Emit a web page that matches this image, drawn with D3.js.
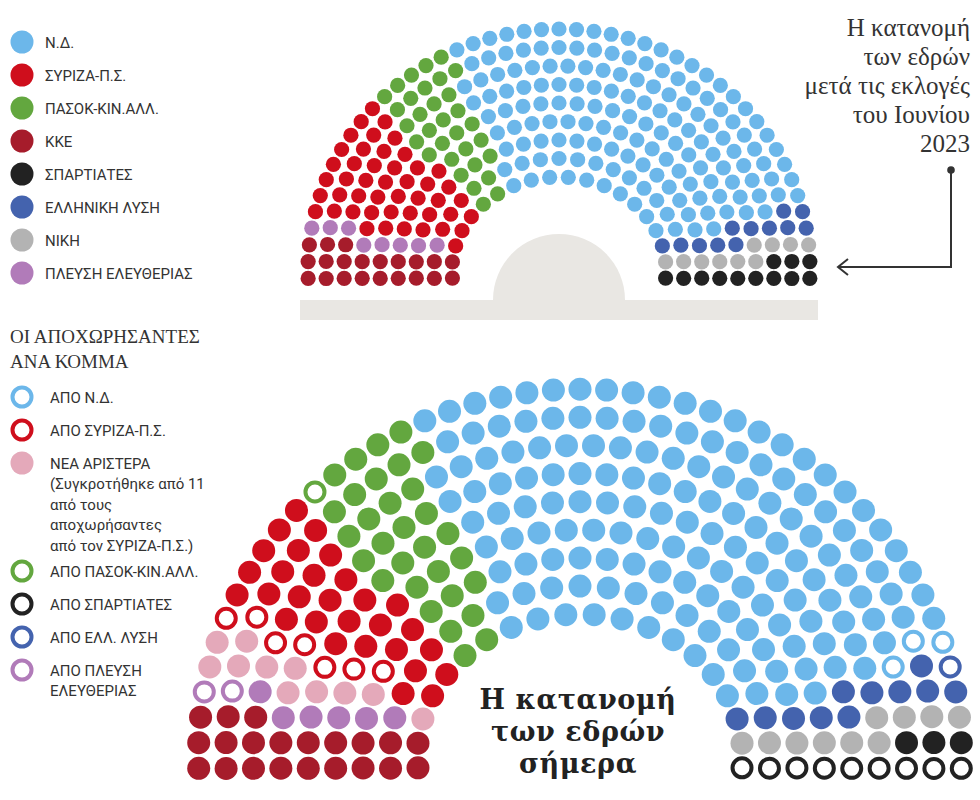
<!DOCTYPE html>
<html lang="el">
<head>
<meta charset="utf-8">
<title>Η κατανομή των εδρών</title>
<style>
  body { margin: 0; background: #fff; }
  svg { display: block; }
  .lbl { font-family: Roboto, "Noto Sans", sans-serif; font-size: 15px; fill: #333; }
  .serif { font-family: "Liberation Serif", "DejaVu Serif", serif; fill: #333; }
  .big { font-family: "DejaVu Serif", serif; font-weight: bold; font-size: 27px; letter-spacing: 0.6px; fill: #222; }
</style>
</head>
<body>
<div id="chart"></div>
<script src="https://cdnjs.cloudflare.com/ajax/libs/d3/7.8.5/d3.min.js"></script>
<script>
// parties and colours
var parties = ["Ν.Δ.", "ΣΥΡΙΖΑ-Π.Σ.", "ΠΑΣΟΚ-ΚΙΝ.ΑΛΛ.", "ΚΚΕ", "ΣΠΑΡΤΙΑΤΕΣ", "ΕΛΛΗΝΙΚΗ ΛΥΣΗ", "ΝΙΚΗ", "ΠΛΕΥΣΗ ΕΛΕΥΘΕΡΙΑΣ", "ΝΕΑ ΑΡΙΣΤΕΡΑ"];
var partyColors = ["#6cb7ea", "#cf0e1c", "#63a73f", "#a61c2b", "#222222", "#4463ae", "#b3b3b3", "#b17bb9", "#e4a9ba"];

// seats after the June 2023 election, left to right
var juneOrder = ["ΚΚΕ", "ΠΛΕΥΣΗ ΕΛΕΥΘΕΡΙΑΣ", "ΣΥΡΙΖΑ-Π.Σ.", "ΠΑΣΟΚ-ΚΙΝ.ΑΛΛ.", "Ν.Δ.", "ΕΛΛΗΝΙΚΗ ΛΥΣΗ", "ΝΙΚΗ", "ΣΠΑΡΤΙΑΤΕΣ"];
var juneSeats = [21, 8, 47, 32, 158, 12, 10, 12];

// seats today: each group sits inside the block of its June party
var todayBlock = ["ΚΚΕ", "ΠΛΕΥΣΗ ΕΛΕΥΘΕΡΙΑΣ", "ΠΛΕΥΣΗ ΕΛΕΥΘΕΡΙΑΣ", "ΣΥΡΙΖΑ-Π.Σ.", "ΣΥΡΙΖΑ-Π.Σ.", "ΣΥΡΙΖΑ-Π.Σ.",
                  "ΠΑΣΟΚ-ΚΙΝ.ΑΛΛ.", "ΠΑΣΟΚ-ΚΙΝ.ΑΛΛ.", "Ν.Δ.", "Ν.Δ.", "ΕΛΛΗΝΙΚΗ ΛΥΣΗ", "ΕΛΛΗΝΙΚΗ ΛΥΣΗ",
                  "ΝΙΚΗ", "ΣΠΑΡΤΙΑΤΕΣ", "ΣΠΑΡΤΙΑΤΕΣ"];
var todayParty = ["ΚΚΕ", "ΠΛΕΥΣΗ ΕΛΕΥΘΕΡΙΑΣ", "ΠΛΕΥΣΗ ΕΛΕΥΘΕΡΙΑΣ", "ΝΕΑ ΑΡΙΣΤΕΡΑ", "ΣΥΡΙΖΑ-Π.Σ.", "ΣΥΡΙΖΑ-Π.Σ.",
                  "ΠΑΣΟΚ-ΚΙΝ.ΑΛΛ.", "ΠΑΣΟΚ-ΚΙΝ.ΑΛΛ.", "Ν.Δ.", "Ν.Δ.", "ΕΛΛΗΝΙΚΗ ΛΥΣΗ", "ΕΛΛΗΝΙΚΗ ΛΥΣΗ",
                  "ΝΙΚΗ", "ΣΠΑΡΤΙΑΤΕΣ", "ΣΠΑΡΤΙΑΤΕΣ"];
var todaySeats = [21, 2, 6, 11, 7, 29, 1, 31, 3, 155, 1, 11, 10, 3, 9];
var todayLeft  = [false, true, false, false, true, false, true, false, true, false, true, false, false, false, true];
var todayPick  = ["seq", "ringFirst", "seq", "seq", "ringFirst", "seq", "ringFirst", "seq", "ringLast", "seq", "ringFirst", "seq", "seq", "seq", "seq"];

// legends
var legendParties = ["Ν.Δ.", "ΣΥΡΙΖΑ-Π.Σ.", "ΠΑΣΟΚ-ΚΙΝ.ΑΛΛ.", "ΚΚΕ", "ΣΠΑΡΤΙΑΤΕΣ", "ΕΛΛΗΝΙΚΗ ΛΥΣΗ", "ΝΙΚΗ", "ΠΛΕΥΣΗ ΕΛΕΥΘΕΡΙΑΣ"];
var leftParty  = ["Ν.Δ.", "ΣΥΡΙΖΑ-Π.Σ.", "ΝΕΑ ΑΡΙΣΤΕΡΑ", "ΠΑΣΟΚ-ΚΙΝ.ΑΛΛ.", "ΣΠΑΡΤΙΑΤΕΣ", "ΕΛΛΗΝΙΚΗ ΛΥΣΗ", "ΠΛΕΥΣΗ ΕΛΕΥΘΕΡΙΑΣ"];
var leftHollow = [true, true, false, true, true, true, true];
var leftLabels = [["ΑΠΟ Ν.Δ."], ["ΑΠΟ ΣΥΡΙΖΑ-Π.Σ."],
                  ["ΝΕΑ ΑΡΙΣΤΕΡΑ", "(Συγκροτήθηκε από 11", "από τους", "αποχωρήσαντες", "από τον ΣΥΡΙΖΑ-Π.Σ.)"],
                  ["ΑΠΟ ΠΑΣΟΚ-ΚΙΝ.ΑΛΛ."], ["ΑΠΟ ΣΠΑΡΤΙΑΤΕΣ"], ["ΑΠΟ ΕΛΛ. ΛΥΣΗ"], ["ΑΠΟ ΠΛΕΥΣΗ", "ΕΛΕΥΘΕΡΙΑΣ"]];
var leftTitle = ["ΟΙ ΑΠΟΧΩΡΗΣΑΝΤΕΣ", "ΑΝΑ ΚΟΜΜΑ"];
var juneTitle = ["Η κατανομή", "των εδρών", "μετά τις εκλογές", "του Ιουνίου", "2023"];
var todayTitle = ["Η κατανομή", "των εδρών", "σήμερα"];

var W = 980, H = 800;
var svg = d3.select("#chart").append("svg").attr("width", W).attr("height", H);

var color = d3.scaleOrdinal().domain(parties).range(partyColors);

// ring geometry, in units of the upper chart
var rings = d3.range(9);
var rxScale = d3.scaleLinear().domain([0, 8]).range([107, 251]);
var ryScale = d3.scaleLinear().domain([0, 8]).range([93, 241]);

// seats per ring, in proportion to ring length
function ringCounts(total) {
    var lens = rings.map(function(i) { return rxScale(i) + ryScale(i); });
    var free = total - 2 * rings.length;
    var raw = lens.map(function(l) { return l / d3.sum(lens) * free; });
    var n = raw.map(Math.floor);
    var rest = free - d3.sum(n);
    var order = rings.slice().sort(function(a, b) { return (raw[b] - n[b]) - (raw[a] - n[a]); });
    for (var j = 0; j < rest; j++) n[order[j]]++;
    return n.map(function(v) { return v + 2; });
}

var counts = ringCounts(d3.sum(juneSeats));
var seats = [];
counts.forEach(function(n, i) {
    var step = Math.PI / (n - 2);
    for (var k = 0; k < n; k++) seats.push({ ring: i, a: Math.PI + step / 2 - k * step });
});
seats.sort(function(p, q) { return q.a - p.a; });

// June: blocks in angle order
var juneAssign = [];
juneOrder.forEach(function(p, g) {
    for (var k = 0; k < juneSeats[g]; k++) juneAssign.push({ party: p, left: false });
});

// today: split every June block
var todayAssign = new Array(seats.length);
var pools = {};
juneAssign.forEach(function(d, i) { (pools[d.party] = pools[d.party] || []).push(i); });
todayBlock.forEach(function(b, g) {
    var pool = pools[b], take = [];
    if (todayPick[g] === "seq") {
        take = pool.slice(0, todaySeats[g]);
    } else {
        var rs = Array.from(new Set(pool.map(function(i) { return seats[i].ring; })))
            .sort(function(a, c) { return c - a; }).slice(0, todaySeats[g]);
        rs.forEach(function(r) {
            var inRing = pool.filter(function(i) { return seats[i].ring === r; });
            take.push(todayPick[g] === "ringFirst" ? inRing[0] : inRing[inRing.length - 1]);
        });
    }
    take.forEach(function(i) { todayAssign[i] = { party: todayParty[g], left: todayLeft[g] }; });
    pools[b] = pool.filter(function(i) { return take.indexOf(i) < 0; });
});

function drawHemicycle(cx, cy, k, dotR, sw, assign) {
    svg.append("g").selectAll("circle")
        .data(seats)
        .join("circle")
        .attr("cx", function(d) { return cx + k * rxScale(d.ring) * Math.cos(d.a); })
        .attr("cy", function(d) { return cy - k * ryScale(d.ring) * Math.sin(d.a); })
        .attr("r", function(d, i) { return assign[i].left ? dotR - sw / 2 : dotR; })
        .attr("fill", function(d, i) { return assign[i].left ? "#fff" : color(assign[i].party); })
        .attr("stroke", function(d, i) { return assign[i].left ? color(assign[i].party) : "none"; })
        .attr("stroke-width", sw);
}

// upper chart: podium
svg.append("rect").attr("x", 300).attr("y", 300).attr("width", 518).attr("height", 20).attr("fill", "#e9e7e3");
svg.append("path")
    .attr("d", d3.arc()({ innerRadius: 0, outerRadius: 66, startAngle: -Math.PI / 2, endAngle: Math.PI / 2 }))
    .attr("transform", "translate(559,300)")
    .attr("fill", "#e9e7e3");

drawHemicycle(559, 270, 1, 7.6, 2.6, juneAssign);
drawHemicycle(580, 755.5, 1.52, 11.5, 4, todayAssign);

// legend of parties
var ly = d3.scaleLinear().domain([0, 7]).range([42, 273]);
var lg = svg.append("g");
legendParties.forEach(function(p, i) {
    lg.append("circle").attr("cx", 22).attr("cy", ly(i)).attr("r", 11.5).attr("fill", color(p));
    lg.append("text").attr("class", "lbl").attr("x", 45).attr("y", ly(i) + 5.5).text(p);
});

// upper title with pointer
var tg = svg.append("g");
juneTitle.forEach(function(t, i) {
    tg.append("text").attr("class", "serif").attr("font-size", 25)
        .attr("text-anchor", "end").attr("x", 970).attr("y", 36 + i * 29).text(t);
});
tg.append("circle").attr("cx", 951).attr("cy", 170).attr("r", 3.8).attr("fill", "#333");
tg.append("path").attr("d", "M951,170V267H838M848,259L838,267L848,275")
    .attr("fill", "none").attr("stroke", "#333").attr("stroke-width", 2);

// legend of the departed
var dg = svg.append("g");
leftTitle.forEach(function(t, i) {
    dg.append("text").attr("class", "serif").attr("font-size", 19).attr("x", 10).attr("y", 343 + i * 25).text(t);
});
var y = 397;
leftLabels.forEach(function(lines, i) {
    var c = color(leftParty[i]);
    dg.append("circle").attr("cx", 22).attr("cy", y)
        .attr("r", leftHollow[i] ? 9.5 : 11.5)
        .attr("fill", leftHollow[i] ? "#fff" : c)
        .attr("stroke", leftHollow[i] ? c : "none")
        .attr("stroke-width", 4);
    lines.forEach(function(t, j) {
        dg.append("text").attr("class", "lbl").attr("x", 50).attr("y", y + 5.5 + j * 20.5).text(t);
    });
    y += (lines.length - 1) * 20.5 + (lines.length > 2 ? 26 : 33);
});

// lower title
todayTitle.forEach(function(t, i) {
    svg.append("text").attr("class", "big").attr("text-anchor", "middle")
        .attr("x", 578).attr("y", 709 + i * 32).text(t);
});
</script>
</body>
</html>
